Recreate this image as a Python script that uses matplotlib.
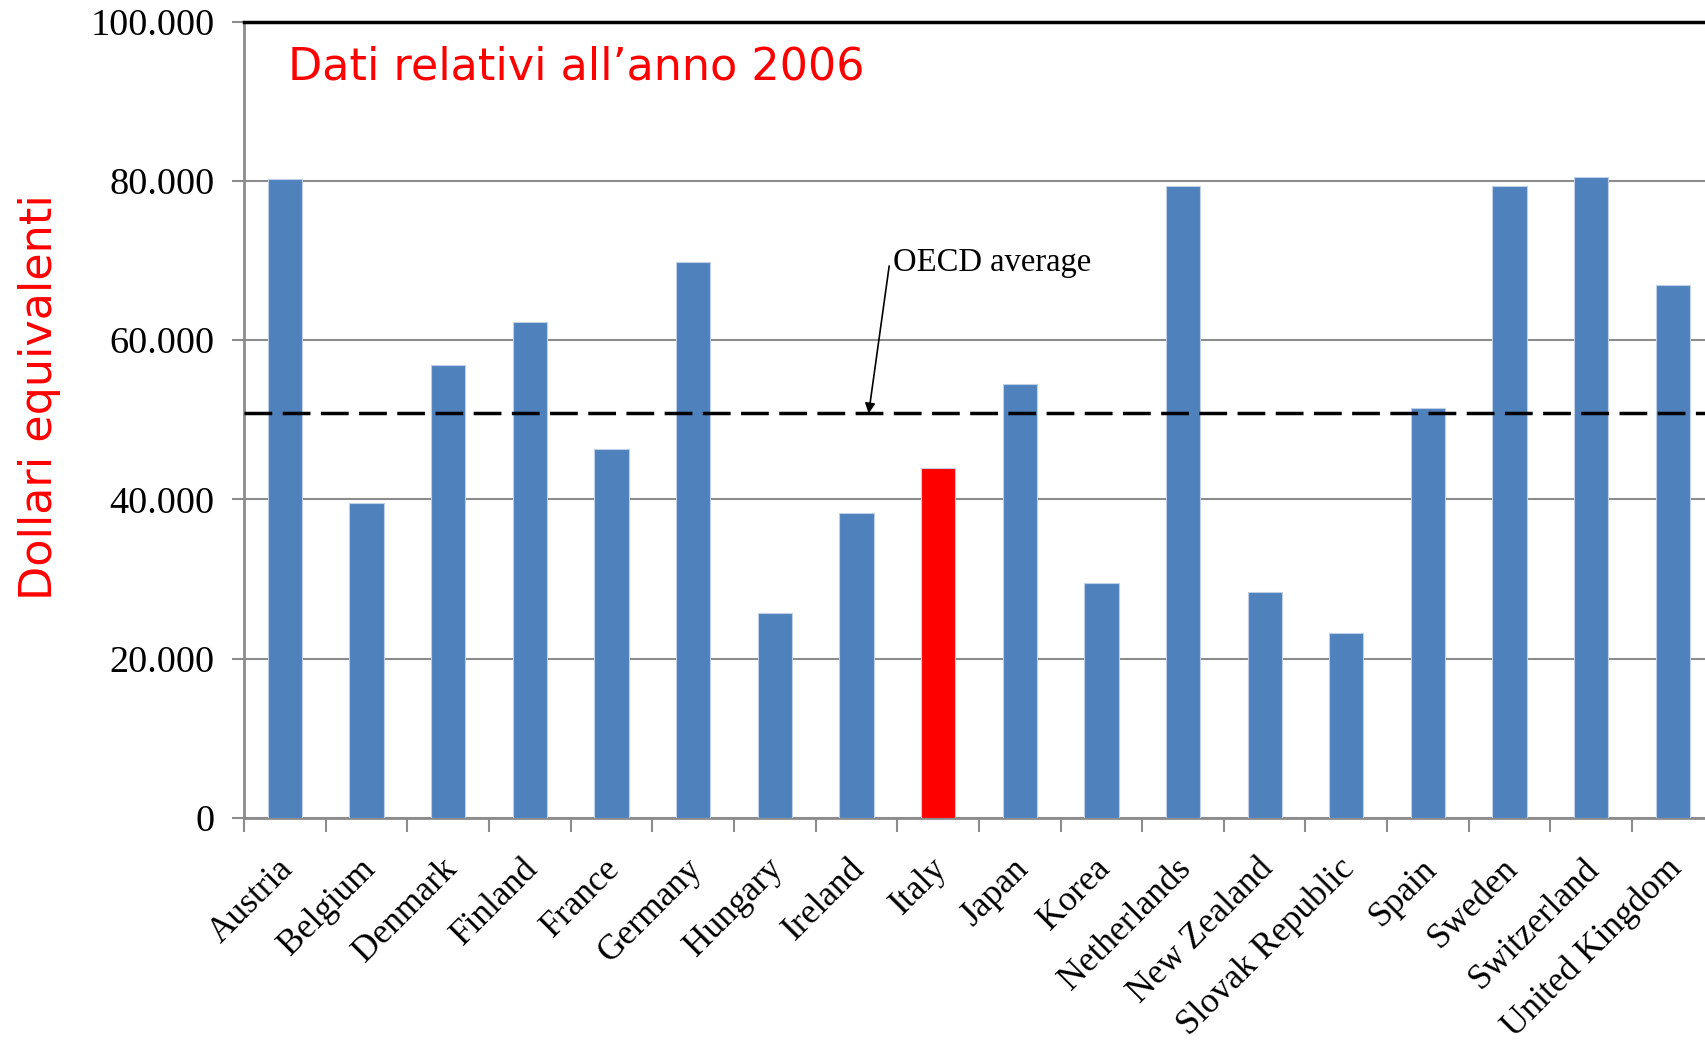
import matplotlib
matplotlib.use("Agg")
import matplotlib.pyplot as plt
import numpy as np

countries = ["Austria", "Belgium", "Denmark", "Finland", "France", "Germany",
             "Hungary", "Ireland", "Italy", "Japan", "Korea", "Netherlands",
             "New Zealand", "Slovak Republic", "Spain", "Sweden", "Switzerland",
             "United Kingdom"]
values = [80200, 39500, 56900, 62300, 46400, 69800, 25800, 38300, 43900,
          54500, 29500, 79400, 28400, 23200, 51500, 79400, 80500, 66900]
highlight = "Italy"
oecd_average = 50800
yticks = [0, 20000, 40000, 60000, 80000, 100000]
ytick_labels = ["0", "20.000", "40.000", "60.000", "80.000", "100.000"]

W, H = 1706, 1045
fig = plt.figure(figsize=(W / 100, H / 100), dpi=100)
ax = fig.add_axes([244 / W, 1 - 818 / H, 1 - 244 / W, (818 - 21.7) / H])

x = np.arange(len(countries))
colors = ["#FF0000" if c == highlight else "#4F81BD" for c in countries]
ax.bar(x, values, width=0.42, color=colors, edgecolor="#BFD0E6", linewidth=0.8, zorder=3)

ax.set_xlim(-0.5, 17.405)
ax.set_ylim(0, 100000)

ax.set_yticks(yticks)
ax.set_yticklabels(ytick_labels, fontfamily="Liberation Serif", fontsize=27.5)
ax.yaxis.grid(True, color="#8C8C8C", linewidth=1.5, zorder=0)
ax.tick_params(axis="y", direction="out", length=9, width=1.5, color="#8C8C8C", pad=12)

ax.set_xticks(np.arange(-0.5, len(countries) - 0.5, 1.0))
ax.set_xticklabels([])
ax.tick_params(axis="x", direction="out", length=10, width=1.5, color="#8C8C8C")
for i, c in enumerate(countries):
    ax.text(i - 0.1, -4300, c, rotation=45, ha="right", va="top",
            rotation_mode="anchor", fontfamily="Liberation Serif", fontsize=25.5,
            transform=ax.transData, clip_on=False)

for s in ["left", "bottom"]:
    ax.spines[s].set_color("#8C8C8C")
    ax.spines[s].set_linewidth(2)
ax.spines["right"].set_visible(False)
ax.spines["top"].set_color("black")
ax.spines["top"].set_linewidth(2.5)

ax.axhline(oecd_average, color="black", linestyle=(0, (8, 3)), linewidth=2.5, zorder=4)
ax.annotate("OECD average", xy=(7.15, oecd_average), xytext=(7.45, 69700),
            fontfamily="Liberation Serif", fontsize=23.5, va="center", ha="left",
            arrowprops=dict(arrowstyle="-|>", color="black", lw=1.2,
                            mutation_scale=15, shrinkA=0, shrinkB=0,
                            relpos=(-0.02, 0.4)),
            zorder=5)

ax.text(0.03, 0.943, "Dati relativi all\u2019anno 2006", transform=ax.transAxes,
        color="#FF0000", fontsize=32, fontfamily="DejaVu Sans", va="center", ha="left")

fig.text(40 / W, 1 - 397 / H, "Dollari equivalenti", rotation=90, color="#FF0000",
         fontsize=32, fontfamily="DejaVu Sans", va="center", ha="center")

fig.savefig("out.png", dpi=100)
